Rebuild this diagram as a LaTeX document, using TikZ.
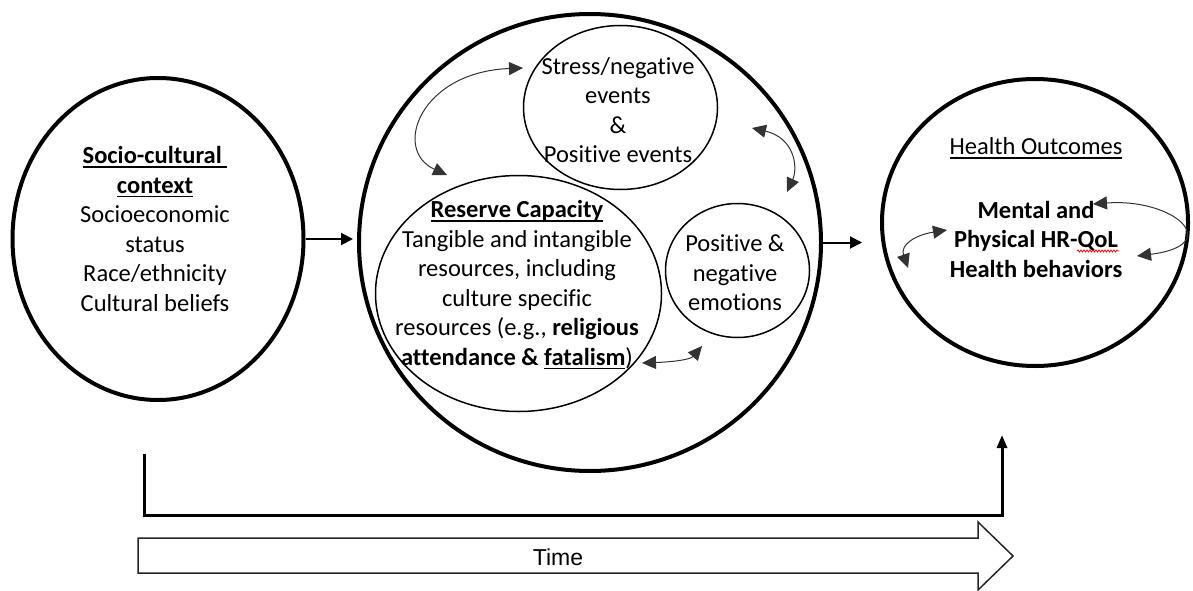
\documentclass[tikz,border=0pt]{standalone}
\usepackage{fontspec}
\setmainfont[Ligatures=NoCommon]{Carlito}
\newfontfamily\timefont{Liberation Sans}
\usetikzlibrary{shapes.geometric,arrows.meta,decorations.pathmorphing}

% underline at a fixed depth
\newsavebox\ulinebox
\newcommand\uln[1]{\sbox\ulinebox{#1}\rlap{\rule[-4pt]{\wd\ulinebox}{1.6pt}}\usebox\ulinebox}

\tikzset{
	big oval/.style={draw, ellipse, line width=4pt, inner sep=0pt},
	small oval/.style={draw, ellipse, line width=1.5pt, inner sep=0pt},
	oval text/.style={align=center, inner sep=0pt, font=\fontsize{24.5}{29.5}\selectfont},
	flow/.style={-{Triangle[length=12pt,width=12pt]}, line width=2pt},
	loop/.style={{Triangle[length=14pt,width=13pt]}-{Triangle[length=14pt,width=13pt]}, line width=1pt, draw=black!80},
}

\begin{document}
\begin{tikzpicture}[x=1pt, y=-1pt]

			\useasboundingbox (0,0) rectangle (1193,591);

			% ovals
			\node [big oval, minimum width=291pt, minimum height=322pt] (context) at (158,239) {};
			\node [big oval, minimum width=462pt, minimum height=457pt] (core) at (590,242.5) {};
			\node [big oval, minimum width=306pt, minimum height=287pt] (outcomes) at (1035,222.5) {};

			\node [small oval, minimum width=194pt, minimum height=164pt] (stress) at (620.5,107.5) {};
			\node [small oval, minimum width=286pt, minimum height=236pt] (reserve) at (518.5,293.5) {};
			\node [small oval, minimum width=144pt, minimum height=134pt] (emotions) at (737.5,270.5) {};

			% texts
			\node [oval text] (context-text) at (155,229)
				{\uln{\textbf{Socio-cultural}\ }\\ \uln{\textbf{context}}\\ Socioeconomic\\ status\\ Race/ethnicity\\ Cultural beliefs};
			\node [oval text] (stress-text) at (618,110)
				{Stress/negative\\ events\\ \&\\ Positive events};
			\node [oval text] (reserve-text) at (517,285)
				{\uln{\textbf{Reserve Capacity}}\\ Tangible and intangible\\ resources, including\\ culture specific\\ resources (e.g., \textbf{religious}\\ \textbf{attendance \& \uln{fatalism}})};
			\node [oval text] (emotions-text) at (735,273)
				{Positive \&\\ negative\\ emotions};
			\node [oval text] (outcomes-title) at (1036,148) {\uln{Health Outcomes}};
			\node [oval text, font=\fontsize{24.5}{29.5}\selectfont\bfseries] (outcomes-text) at (1036,239)
				{Mental and\\ Physical HR-QoL\\ Health behaviors};

			% spell check mark
			\draw [red, line width=0.8pt, decorate, decoration={snake, amplitude=1pt, segment length=3pt}]
				(1077,251) -- (1119,251);

			% arrows between the big ovals
			\draw [flow, shorten >=4pt] (context.east) -- (context.east -| core.west);
			\draw [flow] (core.east) -- ++(39,0);

			% loops inside the middle oval
			\coordinate (l1a) at (523,68);
			\coordinate (l1b) at (447,175);
			\coordinate (l2a) at (752,128);
			\coordinate (l2b) at (787,192);
			\coordinate (l3a) at (642,363);
			\coordinate (l3b) at (702,346);
			\draw [loop] (l1a) .. controls (420,72) and (392,150) .. (l1b);
			\draw [loop] (l2a) .. controls (795,138) and (798,168) .. (l2b);
			\draw [loop] (l3a) .. controls (670,362) and (690,360) .. (l3b);

			% loops inside the right oval
			\coordinate (l4a) at (1093,204);
			\coordinate (l4b) at (1137,256);
			\coordinate (l5a) at (947,230);
			\coordinate (l5b) at (908,268);
			\draw [loop] (l4a) .. controls (1175,198) and (1225,245) .. (l4b);
			\draw [loop] (l5a) .. controls (915,235) and (900,245) .. (l5b);

			% time line
			\coordinate (t-start) at (144,454);
			\coordinate (t-end) at (1002,435);
			\draw [-{Triangle[length=13pt,width=10pt]}, line width=3pt] (t-start) -- (t-start |- 0,515) -| (t-end);

			% time arrow
			\draw [line width=1.5pt, draw=black!85] (138,538) -- (978,538) -- (978,522) -- (1013,556)
				-- (978,590) -- (978,573) -- (138,573) -- cycle;
			\node [font=\timefont\fontsize{23}{27}\selectfont] (time) at (558,557) {Time};

\end{tikzpicture}
\end{document}
